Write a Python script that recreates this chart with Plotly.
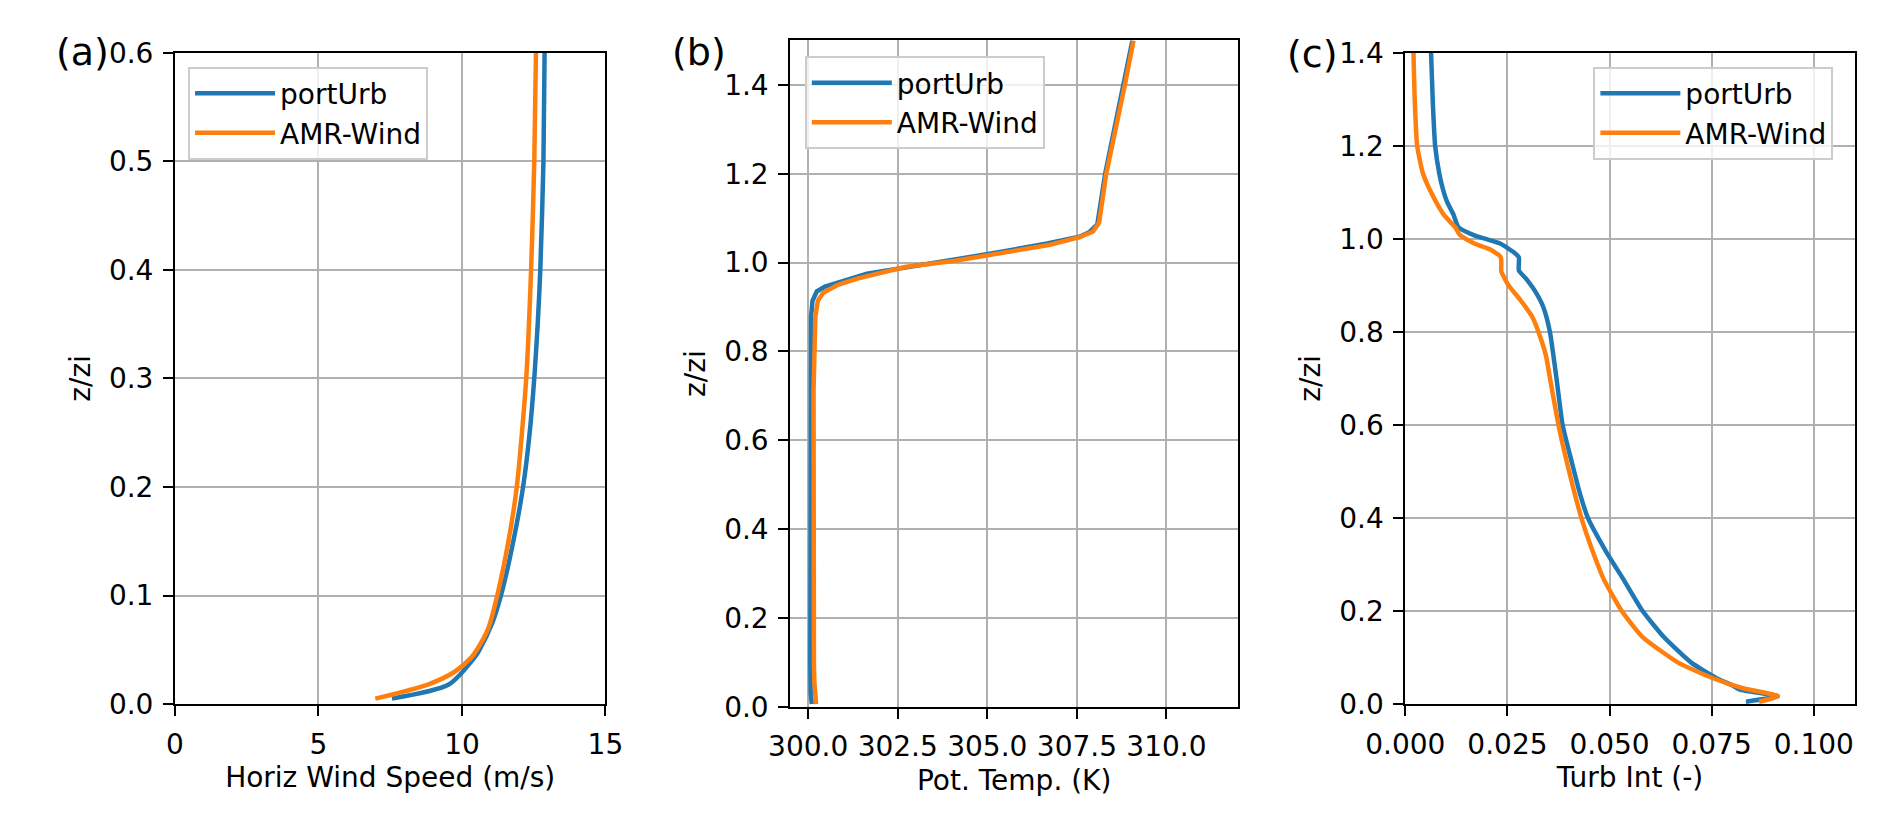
import plotly.graph_objects as go
from plotly.subplots import make_subplots

# (a) horizontal wind speed profiles
wind_z_porturb = [0.005, 0.018, 0.043, 0.05, 0.075, 0.1, 0.15, 0.2, 0.25, 0.3, 0.35, 0.4, 0.5, 0.6]
wind_porturb = [7.56, 9.54, 10.44, 10.61, 11.06, 11.36, 11.79, 12.13, 12.36, 12.52, 12.64, 12.73, 12.84, 12.88]
wind_z_amr = [0.005, 0.018, 0.03, 0.043, 0.05, 0.07, 0.1, 0.15, 0.2, 0.3, 0.4, 0.5, 0.6]
wind_amr = [6.98, 8.81, 9.76, 10.33, 10.52, 10.92, 11.23, 11.62, 11.91, 12.24, 12.41, 12.52, 12.58]

# (b) potential temperature profiles
temp_z_porturb = [0.006, 0.03, 0.1, 0.4, 0.712, 0.878, 0.914, 0.935, 0.946, 0.960, 0.975, 0.986,
                  1.004, 1.022, 1.043, 1.058, 1.068, 1.086, 1.2, 1.4, 1.5]
temp_porturb = [300.10, 300.07, 300.06, 300.06, 300.06, 300.08, 300.12, 300.24, 300.47, 301.0, 301.64, 302.5,
                303.97, 305.23, 306.67, 307.57, 307.84, 308.07, 308.29, 308.81, 309.05]
temp_z_amr = [0.006, 0.03, 0.06, 0.1, 0.4, 0.712, 0.878, 0.914, 0.932, 0.950, 0.964, 0.979, 0.99,
              1.004, 1.022, 1.04, 1.058, 1.07, 1.09, 1.2, 1.4, 1.5]
temp_amr = [300.22, 300.19, 300.17, 300.16, 300.15, 300.15, 300.2, 300.27, 300.42, 300.83, 301.37, 302.09, 302.7,
            304.1, 305.45, 306.75, 307.6, 307.95, 308.12, 308.32, 308.84, 309.08]

# (c) turbulence intensity profiles
ti_z_porturb = [0.005, 0.017, 0.031, 0.041, 0.055, 0.089, 0.144, 0.2, 0.268, 0.33, 0.4, 0.454, 0.522, 0.6,
                0.694, 0.8, 0.853, 0.887, 0.915, 0.932, 0.960, 0.970, 0.990, 1.0076, 1.025, 1.052, 1.080,
                1.107, 1.141, 1.2, 1.3, 1.4]
ti_porturb = [0.0834, 0.0912, 0.0819, 0.0799, 0.0763, 0.0700, 0.0633, 0.0581, 0.0534, 0.0490, 0.0447, 0.0427,
              0.0407, 0.0385, 0.0371, 0.0354, 0.0338, 0.0318, 0.0295, 0.0278, 0.0278, 0.0267, 0.0232, 0.0169,
              0.0130, 0.0118, 0.0102, 0.0092, 0.0083, 0.0073, 0.0067, 0.0063]
ti_z_amr = [0.005, 0.017, 0.034, 0.055, 0.089, 0.144, 0.2, 0.268, 0.33, 0.4, 0.522, 0.6, 0.681, 0.75, 0.8,
            0.832, 0.867, 0.901, 0.92, 0.93, 0.955, 0.963, 0.977, 0.990, 1.008, 1.025, 1.052, 1.093, 1.141,
            1.2, 1.3, 1.4]
ti_amr = [0.0866, 0.0912, 0.0827, 0.0755, 0.0668, 0.0581, 0.0530, 0.0486, 0.0458, 0.0431, 0.0395, 0.0375,
          0.0358, 0.0344, 0.0326, 0.0311, 0.0283, 0.0252, 0.0240, 0.0235, 0.0235, 0.0232, 0.0208, 0.0169,
          0.0134, 0.0122, 0.0094, 0.0067, 0.0043, 0.0029, 0.0023, 0.0020]

names = ["portUrb", "AMR-Wind"]
colors = ["#1f77b4", "#ff7f0e"]
panel_labels = ["(a)", "(b)", "(c)"]
x_titles = ["Horiz Wind Speed (m/s)", "Pot. Temp. (K)", "Turb Int (-)"]

W, H = 1892, 826
FONT = "DejaVu Sans"
FS = 28

fig = make_subplots(rows=1, cols=3)

panels = [
    (wind_porturb, wind_z_porturb, wind_amr, wind_z_amr),
    (temp_porturb, temp_z_porturb, temp_amr, temp_z_amr),
    (ti_porturb, ti_z_porturb, ti_amr, ti_z_amr),
]
legends = ["legend", "legend2", "legend3"]
# smooth the wind and TI profiles, keep the sharp kinks of the temperature one
shapes = [("spline", 0.7), ("linear", None), ("spline", 0.5)]

for i, (x1, z1, x2, z2) in enumerate(panels):
    shape, smooth = shapes[i]
    for j, (xs, zs) in enumerate([(x1, z1), (x2, z2)]):
        line = dict(color=colors[j], width=4.5, shape=shape)
        if smooth is not None:
            line["smoothing"] = smooth
        fig.add_trace(go.Scatter(x=xs, y=zs, mode="lines", name=names[j], line=line,
                                 legend=legends[i], legendgroup=names[j] + str(i)),
                      row=1, col=i + 1)

# pixel boxes of the three axes (left, right, top, bottom)
boxes = [(139.3, 583.3, 38.3, 716.7), (774, 1236, 25.5, 719.5), (1408.5, 1872, 38.3, 716.7)]
x_ranges = [[0, 15], [299.5, 312], [0, 0.11]]
y_ranges = [[0, 0.6], [0, 1.5], [0, 1.4]]
x_ticks = [[0, 5, 10, 15], [300, 302.5, 305, 307.5, 310], [0, 0.025, 0.05, 0.075, 0.1]]
x_formats = ["d", ".1f", ".3f"]
y_dticks = [0.1, 0.2, 0.2]

axis_style = dict(showline=True, mirror=True, linecolor="black", linewidth=2,
                  ticks="outside", ticklen=10, tickwidth=2, tickcolor="black",
                  ticklabelstandoff=4,
                  showgrid=True, gridcolor="#b0b0b0", gridwidth=2, zeroline=False,
                  tickfont=dict(family=FONT, size=FS, color="black"))

for i in range(3):
    l, r, t, b = boxes[i]
    n = "" if i == 0 else str(i + 1)
    fig.update_layout(**{
        "xaxis" + n: dict(
            domain=[l / W, r / W], range=x_ranges[i], tickvals=x_ticks[i], tickformat=x_formats[i],
            title=dict(text=x_titles[i], font=dict(family=FONT, size=FS, color="black"), standoff=8),
            **axis_style),
        "yaxis" + n: dict(
            domain=[1 - b / H, 1 - t / H], range=y_ranges[i], dtick=y_dticks[i], tick0=0, tickformat=".1f",
            title=dict(text="z/zi", font=dict(family=FONT, size=FS, color="black"), standoff=10),
            **axis_style),
    })

# legends placed like the matplotlib ones
legend_pos = [(152.7, 52.7), (789, 41.7), (1602.5, 52.7)]
legend_style = dict(bgcolor="rgba(255,255,255,0.8)", bordercolor="#cccccc", borderwidth=2,
                    font=dict(family=FONT, size=FS, color="black"), tracegroupgap=0,
                    itemwidth=80, xanchor="left", yanchor="top")
for i, (lx, ly) in enumerate(legend_pos):
    fig.update_layout(**{legends[i]: dict(x=lx / W, y=1 - ly / H, **legend_style)})

# panel letters
label_pos = [(44, 38), (680, 38), (1313, 40)]
for txt, (px_, py_) in zip(panel_labels, label_pos):
    fig.add_annotation(text=txt, x=px_ / W, y=1 - py_ / H, xref="paper", yref="paper",
                       showarrow=False, xanchor="center", yanchor="middle",
                       font=dict(family=FONT, size=38, color="black"))

fig.update_layout(width=W, height=H, margin=dict(l=0, r=0, t=0, b=0),
                  plot_bgcolor="white", paper_bgcolor="white")

fig.write_html("out.html", config={"displayModeBar": False},
               post_script="document.body.style.margin='0';")
